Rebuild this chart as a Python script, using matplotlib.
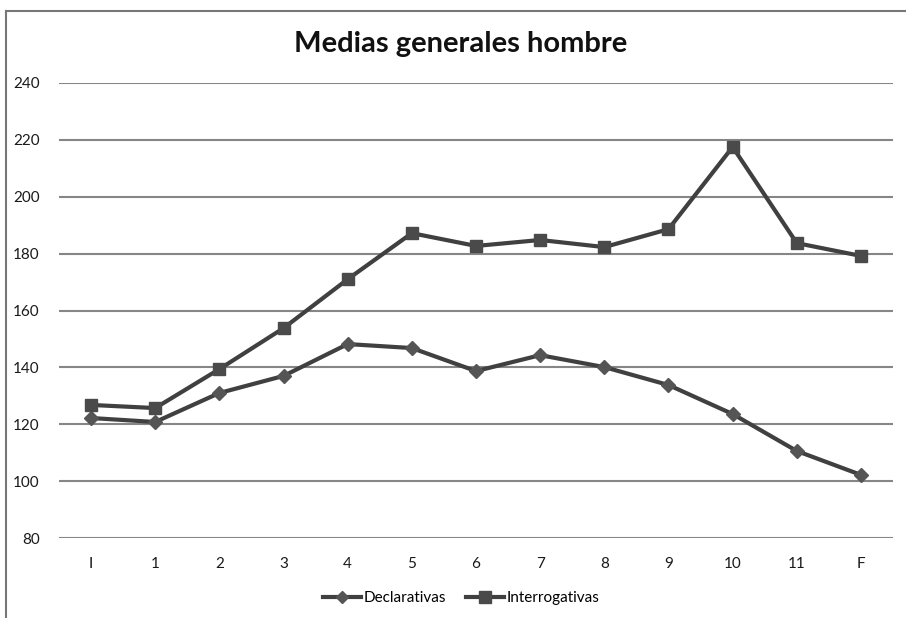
import matplotlib.pyplot as plt
from matplotlib.lines import Line2D

categories = ['I', '1', '2', '3', '4', '5', '6', '7', '8', '9', '10', '11', 'F']
declarativas = [122.2, 120.8, 131.0, 137.0, 148.2, 146.8, 138.7, 144.3, 140.1, 133.8, 123.6, 110.6, 102.2]
interrogativas = [126.8, 125.7, 139.4, 153.8, 171.0, 187.2, 182.7, 184.8, 182.3, 188.6, 217.5, 183.7, 179.2]
yticks = [80, 100, 120, 140, 160, 180, 200, 220, 240]

plt.rcParams['font.family'] = ['Lato', 'DejaVu Sans']

fig = plt.figure(figsize=(9.06, 6.18), dpi=100)
ax = fig.add_axes([0.0651, 0.1294, 0.9206, 0.7363])

x = list(range(len(categories)))
line_col = '#404040'
ax.plot(x, declarativas, color=line_col, lw=3, marker='D', ms=7,
        mfc='#555555', mec='#555555', label='Declarativas', zorder=3)
ax.plot(x, interrogativas, color=line_col, lw=3, marker='s', ms=9,
        mfc='#4a4a4a', mec='#4a4a4a', label='Interrogativas', zorder=3)

ax.set_xlim(-0.5, len(categories) - 0.5)
ax.set_ylim(80, 240)
ax.set_yticks(yticks)
ax.set_xticks(x)
ax.set_xticklabels(categories)
ax.yaxis.grid(True, color='#868686', lw=1.5)
ax.set_axisbelow(True)
for s in ax.spines.values():
    s.set_visible(False)
ax.tick_params(length=0, labelsize=11, colors='#1a1a1a')
ax.tick_params(axis='y', pad=14)
ax.tick_params(axis='x', pad=14)

fig.text(0.508, 0.928, 'Medias generales hombre', ha='center', va='center',
         fontsize=21, fontweight='bold', color='#111111')

# legend: smaller markers than in the plot
handles = [Line2D([], [], color=line_col, lw=3, marker='D', ms=6, mfc='#555555', mec='#555555'),
           Line2D([], [], color=line_col, lw=3, marker='s', ms=8, mfc='#4a4a4a', mec='#4a4a4a')]
fig.legend(handles, ['Declarativas', 'Interrogativas'], loc='center',
           bbox_to_anchor=(0.509, 0.032), ncol=2, frameon=False,
           fontsize=11, handlelength=2.5, columnspacing=1.3, handletextpad=0.15)

# outer chart border (left and top visible)
fig.add_artist(Line2D([0.0066, 0.0066], [0, 0.982], color='#777777', lw=1.5))
fig.add_artist(Line2D([0.0066, 1.0], [0.982, 0.982], color='#777777', lw=1.5))

fig.savefig('out.png', dpi=100)
